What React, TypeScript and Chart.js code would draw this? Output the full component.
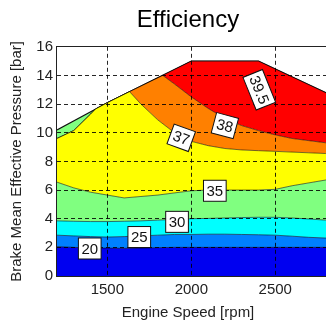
import React, { useEffect, useRef } from "react";
import { Chart, registerables } from "chart.js";

Chart.register(...registerables);

// ---- data ----
const speedGrid = [1200, 1300, 1400, 1500, 1600, 1700, 1800, 1900, 2000, 2100, 2200, 2300, 2400, 2500, 2600, 2700, 2800, 2900, 3000];
const eff20 = [2.05, 2.0, 1.95, 1.95, 1.93, 1.95, 1.98, 2.0, 2.0, 2.0, 2.0, 2.0, 2.0, 2.0, 2.0, 2.0, 2.0, 2.0, 2.0];
const eff25 = [2.85, 2.8, 2.75, 2.72, 2.75, 2.8, 2.85, 2.9, 2.9, 2.92, 2.92, 2.9, 2.88, 2.85, 2.78, 2.7, 2.65, 2.6, 2.55];
const eff30 = [3.85, 3.82, 3.8, 3.8, 3.82, 3.85, 3.9, 3.95, 4.0, 4.02, 4.05, 4.08, 4.1, 4.1, 4.05, 3.98, 3.9, 3.85, 3.8];
const eff35 = [6.55, 6.15, 5.85, 5.65, 5.45, 5.55, 5.65, 5.8, 5.95, 6.0, 6.0, 6.0, 6.0, 6.05, 6.3, 6.5, 6.7, 6.9, 7.05];

const yellowTopSpeed = [1200, 1300, 1400, 1430, 1500, 1632, 1700, 1800, 1900, 2000, 2100, 2200, 2300, 2400, 2500, 2600, 2700, 2800, 2900, 3000];
const yellowTop = [9.6, 10.15, 11.3, 11.66, 12.1, 12.87, 12.0, 10.9, 10.0, 9.4, 9.1, 8.9, 8.8, 8.75, 8.7, 8.65, 8.6, 8.55, 8.5, 8.45];

const orangeTopSpeed = [1200, 1300, 1400, 1430, 1500, 1632, 1830, 1900, 2000, 2100, 2200, 2300, 2400, 2500, 2600, 2700, 2800, 2900, 3000];
const orangeTop = [9.6, 10.15, 11.3, 11.66, 12.1, 12.87, 14.0, 13.4, 12.5, 11.7, 11.0, 10.5, 10.15, 9.85, 9.6, 9.45, 9.3, 9.2, 9.1];

const redTopSpeed = [1200, 1300, 1400, 1430, 1500, 2000, 2400, 3000];
const redTop = [9.6, 10.15, 11.3, 11.66, 12.1, 15.0, 15.0, 11.7];

const maxSpeed = [1200, 1500, 2000, 2400, 3000];
const maxBmep = [10.2, 12.1, 15.0, 15.0, 11.7];

const labelText = ["20", "25", "30", "35", "37", "38", "39.5"];
const labelSpeed = [1395, 1690, 1915, 2140, 1940, 2200, 2405];
const labelBmep = [1.92, 2.72, 3.78, 5.95, 9.65, 10.5, 13.0];
const labelAngle = [0, 0, 0, 0, 20, 15, 68];

const xTicks = [1500, 2000, 2500];

const FONT = "'Liberation Sans', Arial, Helvetica, sans-serif";

const toPts = (xs: number[], ys: number[]) => xs.map((x, i) => ({ x, y: ys[i] }));

const contourLabels = {
  id: "contourLabels",
  afterDraw(chart: any) {
    const { ctx, chartArea, scales } = chart;
    const xs = scales.x;
    const ys = scales.y;
    ctx.save();
    // axes box
    ctx.strokeStyle = "#222";
    ctx.lineWidth = 1;
    ctx.setLineDash([]);
    ctx.strokeRect(
      Math.round(chartArea.left) - 0.5,
      Math.round(chartArea.top) - 0.5,
      Math.round(chartArea.right - chartArea.left) + 1,
      Math.round(chartArea.bottom - chartArea.top) + 1
    );
    ctx.font = `15px ${FONT}`;
    ctx.textAlign = "center";
    ctx.textBaseline = "middle";
    labelText.forEach((t, i) => {
      const px = xs.getPixelForValue(labelSpeed[i]);
      const py = ys.getPixelForValue(labelBmep[i]);
      ctx.save();
      ctx.translate(px, py);
      ctx.rotate((labelAngle[i] * Math.PI) / 180);
      const w = ctx.measureText(t).width + 6;
      const h = 21;
      ctx.fillStyle = "#ffffff";
      ctx.fillRect(-w / 2, -h / 2, w, h);
      ctx.strokeStyle = "#111";
      ctx.lineWidth = 1;
      ctx.strokeRect(-w / 2, -h / 2, w, h);
      ctx.fillStyle = "#111";
      ctx.fillText(t, 0, 1);
      ctx.restore();
    });
    ctx.restore();
  },
};

export default function App() {
  const ref = useRef<HTMLCanvasElement | null>(null);

  useEffect(() => {
    if (!ref.current) return;
    const lineCol = "rgba(0,0,0,0.55)";
    const mk = (data: any[], color: string, fill: any, border = lineCol, bw = 1) => ({
      data,
      backgroundColor: color,
      borderColor: border,
      borderWidth: bw,
      fill,
      pointRadius: 0,
      tension: 0,
    });
    const chart = new Chart(ref.current, {
      type: "line",
      data: {
        datasets: [
          mk(toPts(speedGrid, eff20), "#0000f0", "origin"),
          mk(toPts(speedGrid, eff25), "#0080ff", "-1"),
          mk(toPts(speedGrid, eff30), "#00ffff", "-1"),
          mk(toPts(speedGrid, eff35), "#80ff80", "-1"),
          mk(toPts(yellowTopSpeed, yellowTop), "#ffff00", "-1"),
          mk(toPts(orangeTopSpeed, orangeTop), "#ff8000", "-1"),
          mk(toPts(redTopSpeed, redTop), "#ff0000", "-1"),
          mk(toPts(maxSpeed, maxBmep), "#80ff80", "-1", "#111", 1.2),
        ],
      },
      options: {
        responsive: false,
        animation: false,
        devicePixelRatio: 1,
        layout: { padding: 0 },
        plugins: {
          legend: { display: false },
          tooltip: { enabled: false },
          title: {
            display: true,
            text: "Efficiency",
            color: "#000",
            font: { family: FONT, size: 24, weight: "normal" },
            padding: { top: 6, bottom: 12 },
          },
          subtitle: {
            display: true,
            text: "Engine Speed [rpm]",
            position: "bottom",
            color: "#222",
            font: { family: FONT, size: 15, weight: "normal" },
            padding: { top: 0, bottom: 3 },
          },
        },
        scales: {
          x: {
            type: "linear",
            min: 1200,
            max: 3100,
            afterBuildTicks: (s: any) => {
              s.ticks = xTicks.map((v) => ({ value: v }));
            },
            afterFit: (s: any) => {
              s.height = 28;
            },
            grid: { color: "rgba(0,0,0,0.85)", z: 1, drawTicks: false, lineWidth: 1 },
            border: { display: false, dash: [4, 3] },
            ticks: {
              padding: 5,
              color: "#222",
              font: { family: FONT, size: 15 },
              callback: (v: any) => String(v),
            },
          },
          y: {
            min: 0,
            max: 16,
            afterFit: (s: any) => {
              s.width = 57;
            },
            grid: { color: "rgba(0,0,0,0.85)", z: 1, drawTicks: false, lineWidth: 1 },
            border: { display: false, dash: [4, 3] },
            ticks: {
              stepSize: 2,
              padding: 4,
              color: "#222",
              font: { family: FONT, size: 15 },
              callback: (v: any) => String(v),
            },
            title: {
              display: true,
              text: "Brake Mean Effective Pressure [bar]",
              color: "#222",
              font: { family: FONT, size: 15 },
              padding: { top: 8, bottom: 0 },
            },
          },
        },
      },
      plugins: [contourLabels],
    } as any);
    return () => chart.destroy();
  }, []);

  return (
    <div
      style={{
        position: "fixed",
        left: 0,
        top: 0,
        width: 326,
        height: 325,
        overflow: "hidden",
        background: "#fff",
      }}
    >
      <canvas ref={ref} width={376} height={325} style={{ display: "block" }} />
    </div>
  );
}
